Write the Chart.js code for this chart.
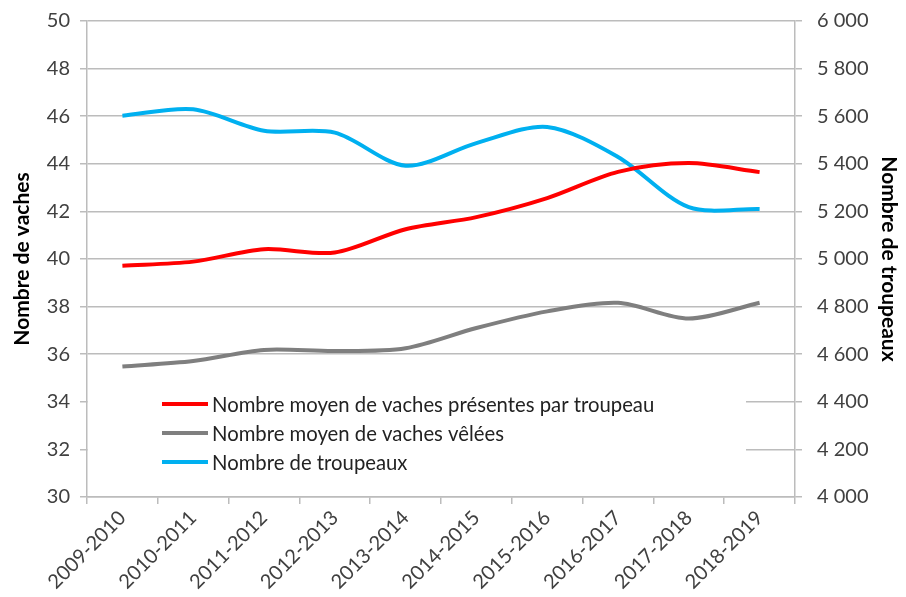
<!DOCTYPE html>
<html>
<head>
<meta charset="utf-8">
<script src="https://cdn.jsdelivr.net/npm/chart.js@4"></script>
<style>
  html, body { margin: 0; padding: 0; background: #fff; }
  #wrap { width: 906px; height: 597px; }
</style>
</head>
<body>
<div id="wrap"><canvas id="grafica" width="906" height="597"></canvas></div>
<script>
const campagnes = ["2009-2010", "2010-2011", "2011-2012", "2012-2013", "2013-2014",
  "2014-2015", "2015-2016", "2016-2017", "2017-2018", "2018-2019"];
const vachesPresentes = [39.72, 39.89, 40.41, 40.27, 41.25, 41.76, 42.56, 43.66, 44.03, 43.65];
const vachesVelees = [35.48, 35.71, 36.18, 36.13, 36.25, 37.1, 37.8, 38.16, 37.5, 38.16];
const troupeaux = [5602, 5629, 5539, 5531, 5392, 5487, 5555, 5429, 5218, 5210];

const nomsSeries = [
  "Nombre moyen de vaches présentes par troupeau",
  "Nombre moyen de vaches vêlées",
  "Nombre de troupeaux"
];
const couleurs = ["#ff0000", "#7f7f7f", "#00b0f0"];

const police = "Lato, 'Open Sans', sans-serif";
const couleurTexte = "#404040";
const couleurGrille = "#bcbcbc";

// legende dessinee dans la zone du graphique, avec un fond blanc
const legendeInterne = {
  id: "legendeInterne",
  beforeDatasetsDraw(chart) {
    const ctx = chart.ctx;
    const area = chart.chartArea;
    ctx.save();
    ctx.fillStyle = "#fff";
    ctx.fillRect(area.left + 1, 388, 745 - area.left, 76);
    ctx.font = "20.3px " + police;
    ctx.textBaseline = "middle";
    nomsSeries.forEach((nom, i) => {
      const y = 404 + i * 29;
      ctx.strokeStyle = couleurs[i];
      ctx.lineWidth = 4;
      ctx.beginPath();
      ctx.moveTo(162, y);
      ctx.lineTo(208, y);
      ctx.stroke();
      ctx.fillStyle = "#222";
      ctx.fillText(nom, 212, y + 1);
    });
    ctx.restore();
  }
};

function formatMilliers(v) {
  return String(v).replace(/\B(?=(\d{3})+(?!\d))/g, " ");
}

// largeur fixe pour les axes verticaux, sans marge en haut/bas
function fixerLargeur(largeur) {
  return (scale) => {
    scale.width = largeur;
    scale.paddingTop = 0;
    scale.paddingBottom = 0;
  };
}

const configuracion = {
  type: "line",
  data: {
    labels: campagnes,
    datasets: [
      { label: nomsSeries[0], data: vachesPresentes, borderColor: couleurs[0], yAxisID: "y" },
      { label: nomsSeries[1], data: vachesVelees, borderColor: couleurs[1], yAxisID: "y" },
      { label: nomsSeries[2], data: troupeaux, borderColor: couleurs[2], yAxisID: "y2" }
    ]
  },
  options: {
    responsive: false,
    animation: false,
    layout: { padding: { top: 21, right: 5, left: 10, bottom: 0 } },
    elements: {
      line: { borderWidth: 4, tension: 0.3 },
      point: { radius: 0 }
    },
    plugins: {
      legend: { display: false },
      tooltip: { enabled: false }
    },
    scales: {
      x: {
        offset: true,
        afterFit: (scale) => { scale.height = 100; },
        grid: { offset: true, drawOnChartArea: false, color: couleurGrille, lineWidth: 1.5, tickLength: 7 },
        border: { color: couleurGrille, width: 1.5 },
        ticks: { color: couleurTexte, font: { family: police, size: 20 }, minRotation: 45, maxRotation: 45, padding: 2 }
      },
      y: {
        position: "left",
        min: 30,
        max: 50,
        afterFit: fixerLargeur(77),
        ticks: { stepSize: 2, color: couleurTexte, font: { family: police, size: 20 }, padding: 10 },
        grid: { color: couleurGrille, lineWidth: 1.5, tickLength: 7 },
        border: { color: couleurGrille, width: 1.5 },
        title: { display: true, text: "Nombre de vaches", color: "#000", font: { family: police, size: 21, weight: "bold" }, padding: { top: 0, bottom: 0 } }
      },
      y2: {
        position: "right",
        min: 4000,
        max: 6000,
        afterFit: fixerLargeur(106),
        ticks: { stepSize: 200, color: couleurTexte, font: { family: police, size: 20 }, padding: 15, callback: formatMilliers },
        grid: { drawOnChartArea: false, color: couleurGrille, lineWidth: 1.5, tickLength: 7 },
        border: { color: couleurGrille, width: 1.5 },
        title: { display: true, text: "Nombre de troupeaux", color: "#000", font: { family: police, size: 21, weight: "bold" }, padding: { top: 0, bottom: 6 } }
      }
    }
  },
  plugins: [legendeInterne]
};

const graficaDOM = document.querySelector("#grafica");
const grafica = new Chart(graficaDOM, configuracion);
</script>
</body>
</html>
